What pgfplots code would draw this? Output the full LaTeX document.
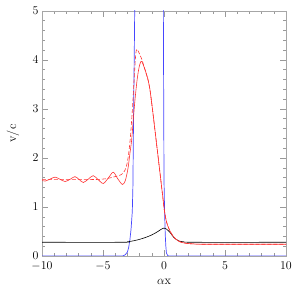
\documentclass[border=0pt]{standalone}
\usepackage{pgfplots}
\pgfplotsset{compat=1.18}
\definecolor{myred}{RGB}{255,50,50}
\definecolor{myblue}{RGB}{70,70,255}
\begin{document}
\begin{tikzpicture}
\begin{axis}[
  scale only axis,
  width=244bp, height=245bp,
  xmin=-10, xmax=10, ymin=0, ymax=5,
  xtick={-10,-5,0,5,10}, ytick={0,1,2,3,4,5},
  minor x tick num=4, minor y tick num=4,
  tick align=inside,
  major tick length=6bp, minor tick length=3bp,
  every tick/.style={gray!80, line width=0.6pt},
  axis line style={gray!70, line width=0.9pt},
  ticklabel style={font=\fontsize{12.5}{15}\selectfont},
  xticklabel style={yshift=-2bp},
  label style={font=\fontsize{12.5}{15}\selectfont},
  xlabel={$\alpha$x}, ylabel={v/c},
  xlabel style={at={(axis description cs:0.5,-0.105)}, anchor=center},
  ylabel style={at={(axis description cs:-0.119,0.5)}, anchor=center},
]
\coordinate (sw) at (rel axis cs:0,0);
\coordinate (ne) at (rel axis cs:1,1);
% blue
\addplot[myblue, line width=0.7pt] coordinates {
(-10,0) (-3.4,0) (-3.2,0.02) (-3.0,0.08) (-2.9,0.17) (-2.8,0.32) (-2.7,0.55) (-2.6,0.9) (-2.55,1.4) (-2.52,2.2) (-2.48,3.2) (-2.43,4.3) (-2.38,5.5)};
\addplot[myblue, line width=0.7pt] coordinates {
(-0.06,5.5) (-0.03,3.5) (0.0,1.55) (0.05,0.9) (0.1,0.45) (0.15,0.2) (0.2,0.06) (0.3,0.01) (0.4,0) (10,0)};
% black
\addplot[black, line width=0.6pt, smooth, tension=0.5] coordinates {
(-10,0.28) (-3.5,0.28) (-3,0.29) (-2.5,0.31) (-2,0.34) (-1.5,0.38) (-1,0.43) (-0.5,0.5) (-0.2,0.55) (0,0.57) (0.2,0.55) (0.5,0.48) (0.8,0.38) (1.2,0.31) (1.6,0.29) (2.5,0.28) (10,0.28)};
% red solid
\addplot[myred, line width=0.6pt, smooth, tension=0.5] coordinates {
(-10,1.54) (-9.73,1.53) (-9.33,1.57) (-8.93,1.61) (-8.52,1.565) (-8.11,1.52) (-7.7,1.565) (-7.30,1.62) (-6.95,1.56) (-6.61,1.50) (-6.2,1.57) (-5.80,1.64) (-5.4,1.56) (-4.98,1.48) (-4.57,1.59) (-4.16,1.71) (-3.8,1.58) (-3.42,1.46) (-3.2,1.52) (-3.06,1.65) (-2.93,1.82) (-2.79,2.10) (-2.65,2.37) (-2.52,2.78) (-2.38,3.18) (-2.24,3.52) (-2.11,3.76) (-1.97,3.92) (-1.83,3.97) (-1.5,3.76) (-1.15,3.39) (-0.6,2.27) (-0.05,1.1) (0.05,0.9) (0.2,0.7) (0.4,0.56) (0.6,0.46) (0.9,0.36) (1.3,0.29) (1.8,0.26) (2.5,0.245) (3.5,0.24) (10,0.24)};
% red dashed
\addplot[myred, line width=0.6pt, dash pattern=on 4pt off 2pt, smooth, tension=0.5] coordinates {
(-10,1.56) (-6,1.56) (-5,1.57) (-4.5,1.59) (-4,1.62) (-3.5,1.66) (-3.2,1.75) (-3.0,1.92) (-2.8,2.3) (-2.6,2.95) (-2.45,3.6) (-2.32,4.1) (-2.22,4.22) (-2.0,4.12) (-1.8,4.0) (-1.6,3.83) (-1.5,3.76) (-1.15,3.39) (-0.6,2.27) (-0.05,1.1) (0.05,0.9) (0.2,0.7) (0.4,0.56) (0.6,0.46) (0.9,0.36) (1.3,0.29) (1.8,0.26) (2.5,0.245) (3.5,0.24) (10,0.24)};
\end{axis}
\pgfresetboundingbox
\path ([shift={(-42bp,-34bp)}]sw) rectangle ([shift={(12bp,11bp)}]ne);
\end{tikzpicture}
\end{document}
